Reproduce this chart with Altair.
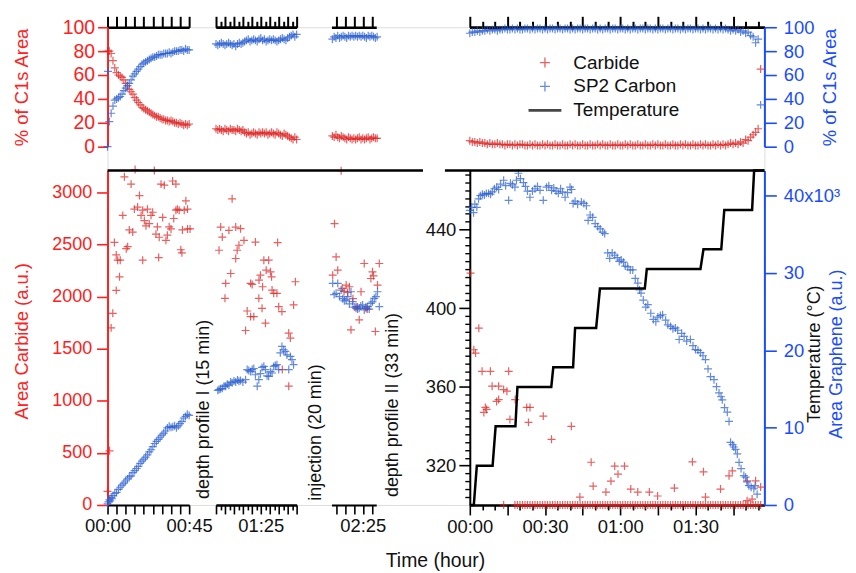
import altair as alt
import pandas as pd

# ---------------- data ----------------
# Top-left panel: % of C1s area, segment 1 (00:00 - 00:45, minutes)
TL1_TIME = [0,1,2,3,4,5,6,7,8,9,10,11,12,13,14,15,16,17,18,19,20,21,22,23,24,25,26,27,28,29,30,31,32,33,34,35,36,37,38,39,40,41,42,43,44,45]
TL1_CARBIDE = [80,80,78,72,66,62,60,59,58,56,53,51,48,46,44,41,39,37,35,33,32,31,30,29,28,27,26,25,25,24,23,23,22,22,21,22,21,20,20,19,20,19,18,19,18,19]
TL1_SP2 = [0,21,28,34,39,40,41,42,44,47,49,51,53,56,59,61,63,65,67,69,70,71,72,73,74,75,75,76,77,77,77,78,78,78,79,78,79,80,80,80,81,81,80,82,81,81]
TL1_SP2_EXTRA_TIME = [0.3]
TL1_SP2_EXTRA = [63]

# segment 2 (01:00 - 01:45)
TL2_TIME = [60,61,62,63,64,65,66,67,68,69,70,71,72,73,74,75,76,77,78,79,80,81,82,83,84,85,86,87,88,89,90,91,92,93,94,95,96,97,98,99,100,101,102,103,104,105]
TL2_CARBIDE = [15,14,15,14,13,15,14,13,15,14,14,13,15,14,13,14,12,11,12,10,11,12,11,10,12,11,12,11,12,10,11,12,11,10,12,11,10,9,11,10,9,8,7,6,8,6]
TL2_SP2 = [86,85,86,87,86,85,86,87,86,85,86,84,86,87,86,87,88,89,90,88,89,90,89,88,90,91,89,90,88,89,90,89,90,89,88,89,90,91,90,89,91,92,93,94,92,94]

# segment 3 (02:08 - 02:33)
TL3_TIME = [128,129,130,131,132,133,134,135,136,137,138,139,140,141,142,143,144,145,146,147,148,149,150,151,152,153]
TL3_CARBIDE = [9,8,10,8,7,9,8,7,6,8,7,6,7,6,7,8,6,7,6,7,8,6,7,8,7,7]
TL3_SP2 = [90,92,91,93,91,92,93,92,91,93,92,93,92,93,92,93,92,93,92,91,93,92,93,92,91,92]

# Top-right panel: % of C1s area during annealing
TR_TIME = [0,1,2,3,4,5,6,7,8,9,10,11,12,13,14,15,16,17,18,19,20,21,22,23,24,25,26,27,28,29,
           30,31,32,33,34,35,36,37,38,39,40,41,42,43,44,45,46,47,48,49,50,51,52,53,54,55,56,57,58,59,
           60,61,62,63,64,65,66,67,68,69,70,71,72,73,74,75,76,77,78,79,80,81,82,83,84,85,86,87,88,89,
           90,91,92,93,94,95,96,97,98,99,100,101,102,103,104,105,106,107,108,109,110,111,112,113,114,115,116]
TR_SP2 = [95,96,96,97,96,97,97,98,97,98,98,97,98,98,99,98,98,99,98,99,98,98,99,99,98,99,98,99,99,98,
          99,98,99,99,98,99,99,98,99,99,98,99,98,99,99,98,99,99,98,99,99,98,99,98,99,99,98,99,99,98,
          99,99,98,99,98,99,99,98,99,99,98,99,99,98,99,98,99,99,98,99,99,98,99,99,98,99,98,99,99,98,
          99,99,98,99,98,99,99,98,99,98,99,98,99,98,97,98,97,98,96,97,95,96,93,92,87,90,35]
TR_CARBIDE = [5,4,4,3,4,3,3,2,3,2,2,3,2,2,1,2,2,1,2,1,2,2,1,1,2,1,2,1,1,2,
              1,2,1,1,2,1,1,2,1,1,2,1,2,1,1,2,1,1,2,1,1,2,1,2,1,1,2,1,1,2,
              1,1,2,1,2,1,1,2,1,1,2,1,1,2,1,2,1,1,2,1,1,2,1,1,2,1,2,1,1,2,
              1,1,2,1,2,1,1,2,1,2,1,2,1,2,3,2,3,2,4,3,6,5,8,10,12,15,65]

# Bottom-left: areas (a.u.), segment 1
BL1_CARB_TIME = [0.0,1.1,2.0,2.9,3.8,4.8,4.8,5.6,6.6,7.0,8.4,9.3,10.3,11.1,12.0,13.0,13.9,14.8,15.2,16.6,17.6,18.5,19.4,19.4,20.3,21.2,22.0,23.0,24.0,24.9,25.8,26.7,27.5,28.2,28.5,29.5,30.4,31.3,32.2,33.0,34.0,35.0,35.9,36.5,37.7,37.7,38.5,39.5,40.4,41.0,41.3,42.3,43.2,44.1,44.1,45.5]
BL1_CARB = [130,520,1700,1840,2520,2060,2400,2350,2190,2350,2780,3150,2460,2480,2640,3080,2620,2840,3220,2860,2970,2780,2350,2830,2730,2680,2840,2700,2780,2810,3210,2600,2670,2375,2570,3080,2760,3070,2540,2590,2670,2650,3110,2750,3080,2830,2840,2830,2450,2420,2640,2830,2920,2840,2650,2650]
BL1_SP2_TIME = [0,0.5,1,1.5,2,2.5,3,4,5,6,7,8,9,10,11,12,13,14,15,16,17,18,19,20,21,22,23,24,25,26,27,28,29,30,31,32,33,34,35,36,37,38,39,40,41,42,43,44,45]
BL1_SP2 = [10,30,50,40,70,60,90,110,120,150,170,190,210,230,250,270,280,310,330,350,370,400,420,440,460,480,510,530,560,590,610,630,650,670,690,710,740,755,745,750,760,740,760,780,800,835,850,870,860]

# segment 2
BL2_CARB_TIME = [61.7,62.6,63.5,65.0,65.4,67.2,68.2,69.0,71.0,71.0,71.8,72.8,73.7,75.6,76.5,77.4,79.3,79.3,80.2,81.1,82.0,83.9,84.0,84.8,85.7,86.0,86.7,87.6,88.0,89.4,90.4,91.0,91.3,92.2,94.0,94.4,95.0,96.8,97.0,100.6,100.6,101.5,103.3,104.3]
BL2_CARB = [2445,2668,2572,1984,2127,2636,2222,2939,2668,2366,2445,2493,2652,2540,1675,1862,2127,1808,2117,1808,2524,1984,2159,2206,1888,2095,2350,1745,2254,2350,2238,2190,2063,2032,2032,2519,1904,1856,1300,1650,1140,1602,1920,2143]
BL2_SP2_TIME = [61.0,61.7,62.5,63.5,64.5,65.4,66.3,67.2,68.2,69.0,70.0,71.0,72.0,72.8,73.7,75.0,76.5,77.4,78.3,79.3,80.2,81.1,82.0,83.0,83.9,84.8,85.7,86.7,87.6,88.5,89.4,90.4,91.3,92.2,93.1,94.0,95.0,95.9,96.8,97.8,98.7,99.6,100.6,101.5,102.4,103.3]
BL2_SP2 = [1100,1108,1115,1120,1140,1140,1160,1150,1180,1172,1190,1180,1200,1188,1195,1180,1203,1300,1290,1280,1300,1310,1250,1140,1203,1260,1320,1331,1300,1240,1235,1280,1267,1330,1340,1347,1300,1460,1522,1490,1474,1440,1300,1426,1395,1347]

# segment 3
BL3_CARB_TIME = [128.2,129.2,130.1,131.0,132.9,133.5,134.5,135.7,136.5,137.5,138.4,139.5,141.2,142.0,143.0,144.0,145.8,146.8,147.5,149.5,150.4,151.0,152.0,153.2,154.2]
BL3_CARB = [2206,2700,2381,2254,3209,2080,2050,2111,2040,2095,1681,1980,1888,1900,1777,2047,2318,1888,1880,2174,2238,2200,1665,2111,2318]
BL3_SP2_TIME = [128.2,129.0,130.1,131.0,132.0,132.9,133.8,134.7,135.7,136.6,137.5,138.4,139.3,140.2,141.2,142.1,143.0,143.9,144.9,145.8,146.7,147.7,148.6,149.5,150.4,151.4,152.3,153.2,154.2]
BL3_SP2 = [2127,2020,2032,2127,2000,2063,1980,1960,1968,2000,1930,2047,1952,1900,1904,1880,1888,1910,1920,1872,1900,1904,1880,1936,1950,1984,2000,2047,1904]

# Bottom-right: annealing, carbide area (a.u.) and graphene area (x10^3)
BR_CARB_TIME = [0.3,1.6,2.3,3.6,4.9,5.6,6.2,6.7,8.2,8.9,10.7,11.5,11.5,13.5,14.8,15.5,16.0,18.1,22.7,23.4,24.0,29.3,32.6,40.5,43.9,48.4,49.2,54.3,56.3,57.8,59.1,61.7,64.2,67.0,71.6,74.9,81.6,88.8,93.2,94.0,100.0,103.4,104.7,110.6,110.6,112.6,114.0,116.0]
BR_CARB = [2225,1490,1458,1697,1283,888,936,917,1283,1140,994,1140,1012,1108,1092,1283,821,1012,936,793,936,853,630,755,76,410,181,124,229,373,296,373,153,124,124,86,162,414,318,76,153,280,328,232,41,57,232,172]
BR_CARB_ZERO_TIME = [13.5,18,19,20,21,22,23,24,25,26,27,28,29,30,31,32,33,34,35,36,37,38,39,40,41,42,43,44,45,46,47,48,49,50,51,52,53,54,55,56,57,58,59,60,61,62,63,64,65,66,67,68,69,70,71,72,73,74,75,76,77,78,79,80,81,82,83,84,85,86,87,88,89,90,91,92,93,94,95,96,97,98,99,100,101,102,103,104,105,106,107,108,109,110,111,112,113,114,115,116]
BR_SP2_TIME = [0,0.8,1.5,2.0,2.8,3.5,4.2,5.0,5.8,6.6,7.5,8.3,9.0,9.8,10.7,11.5,12.3,13.5,14.3,15.5,
               16.2,17.0,18.0,18.6,19.4,20.2,21.4,22.2,23.0,24.0,25.0,26.0,27.0,28.0,29.3,30.6,31.5,32.6,33.5,34.4,
               35.3,36.2,37.0,38.0,39.0,40.0,40.6,41.2,42.0,43.0,44.5,45.5,46.5,47.2,48.0,49.0,50.0,51.0,52.0,53.0,
               53.8,55.0,55.8,56.8,57.8,58.8,59.6,60.4,61.3,62.0,63.0,64.0,65.0,66.0,67.0,67.7,68.3,69.2,70.2,71.0,
               72.2,73.2,74.2,75.0,76.0,76.9,78.1,79.0,80.1,81.0,82.0,82.9,83.5,84.5,85.5,86.5,88.0,89.0,90.0,91.0,
               92.0,93.0,94.0,95.0,96.0,97.4,98.4,99.4,100.2,100.7,101.6,102.7,103.4,104.0,104.8,105.3,106.0,106.7,107.4,108.2,
               109.3,110.0,110.6,111.3,112.2,113.3,113.8,114.6]
BR_SP2_K = [38.1,38.5,37.8,38.9,38.5,39.6,40.0,40.2,40.1,40.3,40.3,40.2,40.5,40.9,41.1,40.8,41.5,42.0,41.3,39.4,
            41.6,41.4,41.1,42.0,42.9,42.2,41.7,41.2,40.6,39.8,40.6,40.9,41.2,40.7,39.4,41.1,41.3,40.7,41.0,40.6,
            40.3,40.9,40.5,39.8,40.4,41.1,40.8,39.0,39.3,38.9,39.2,39.0,38.7,36.8,37.5,37.2,36.4,36.0,35.7,35.3,
            35.1,32.6,31.9,32.6,32.3,32.0,31.5,31.7,31.4,30.9,30.8,30.4,30.4,29.3,28.7,27.8,27.4,26.5,25.6,25.9,
            24.8,24.0,23.7,24.3,24.5,24.6,23.9,23.3,23.1,22.8,22.9,22.6,21.4,22.2,21.8,21.2,21.4,20.6,20.1,20.0,
            19.7,19.3,18.8,17.6,16.6,16.2,15.3,14.5,14.0,13.6,12.6,12.0,10.8,8.1,7.8,7.5,7.2,6.6,5.5,4.7,
            3.8,3.6,3.0,2.5,2.3,2.1,2.5,1.4]

# Temperature steps (°C)
TEMP_TIME = [0,1.6,2.8,9.1,10.3,18.2,19.0,32.5,33.3,41.2,42.0,50.4,51.9,69.8,70.6,92.0,93.2,100.3,101.5,112.6,113.4,117.5]
TEMP_C = [300,300,320,320,340,340,360,360,370,370,390,390,410,410,420,420,430,430,450,450,470,470]

# Annotations
ANNOT_LABELS = ["depth profile I (15 min)", "injection (20 min)", "depth profile II (33 min)"]
ANNOT_TIME = [53.2, 115.6, 161.9]
ANNOT_Y = [57, 41, 76]

SERIES = ["Carbide", "SP2 Carbon", "Temperature"]

# ---------------- styling ----------------
FONT = "Liberation Sans"
RED = "#ff2020"
BLUE = "#1a4cff"
PT_RED = "#e02424"
PT_BLUE = "#2a5fd0"
CROSS = "M-1,0H1M0,-1V1"
LINE_SYM = "M-3.3,0H3.3M-3.3,0.16H3.3M-3.3,-0.16H3.3"

W, H = 660, 480

def sc(dom, rng):
    return alt.Scale(domain=dom, range=rng, nice=False, zero=False)

X1 = sc([0, 45], [0, 82])
X2 = sc([60, 105], [109, 190])
X3 = sc([127.5, 152.5], [225, 270])
XR = sc([0, 117.5], [364, 660])
Y_PCT = sc([0, 100], [120, 0])
Y_CARB = sc([0, 3210], [480, 144])
Y_GR = sc([0, 43250], [480, 144])
Y_T = sc([300, 470], [480, 144])

COLOR_SC = alt.Scale(domain=SERIES, range=[PT_RED, PT_BLUE, "#000000"])
SHAPE_SC = alt.Scale(domain=SERIES, range=[CROSS, CROSS, LINE_SYM])
LEG = alt.Legend(orient="none", legendX=430, legendY=26, title=None, labelFont=FONT,
                 labelFontSize=19, labelColor="#111111", labelOffset=19, symbolSize=100,
                 symbolStrokeWidth=1.3, rowPadding=4)


def ax(orient, **kw):
    base = dict(orient=orient, grid=False, labelFont=FONT, titleFont=FONT, domainWidth=2,
                tickWidth=1.6, labelOverlap=False, labelFlush=False, title=None,
                domainColor="black", tickColor="black", labelColor="#111111",
                titleFontWeight="normal")
    base.update(kw)
    return alt.Axis(**base)


def tlabel(vals):
    arr = ",".join(str(v) for v in vals)
    return ("indexof([" + arr + "], datum.value) >= 0 ? "
            "pad(floor(datum.value/60)+'', 2, '0', 'left') + ':' + "
            "pad((datum.value%60)+'', 2, '0', 'left') : ''")


def frame(tc, vc, ts, vs):
    rows = [{"t": t, "v": v, "series": "Carbide"} for t, v in zip(tc, vc)]
    rows += [{"t": t, "v": v, "series": "SP2 Carbon"} for t, v in zip(ts, vs)]
    return pd.DataFrame(rows)


def pts(df, xsc, ysc, xaxis=None, yaxis=None):
    return alt.Chart(df).mark_point(filled=False, size=64, opacity=0.72, strokeWidth=1.2).encode(
        x=alt.X("t:Q", scale=xsc, axis=xaxis),
        y=alt.Y("v:Q", scale=ysc, axis=yaxis),
        color=alt.Color("series:N", scale=COLOR_SC, legend=LEG),
        shape=alt.Shape("series:N", scale=SHAPE_SC, legend=LEG),
    )


def guide(xsc=None, xaxis=None, ysc=None, yaxis=None, t0=0, v0=0):
    enc = {}
    if xsc is not None:
        enc["x"] = alt.X("t:Q", scale=xsc, axis=xaxis)
    if ysc is not None:
        enc["y"] = alt.Y("v:Q", scale=ysc, axis=yaxis)
    return alt.Chart(pd.DataFrame({"t": [t0], "v": [v0]})).mark_point(opacity=0).encode(**enc)


SEG1_TICKS = [0, 5, 10, 15, 20, 25, 30, 35, 40, 45]
SEG2_MAJOR = [60, 65, 70, 75, 80, 85, 90, 95, 100, 105]
SEG2_MINOR = [62.5, 67.5, 72.5, 77.5, 82.5, 87.5, 92.5, 97.5, 102.5]
SEG3_TICKS = [130, 135, 140, 145, 150]
R_MAJOR = [0, 15, 30, 45, 60, 75, 90, 105]
R_MINOR = [5, 10, 20, 25, 35, 40, 50, 55, 65, 70, 80, 85, 95, 100, 110, 115]
T_MAJOR = [320, 360, 400, 440]
T_MINOR = [v for v in range(304, 470, 4) if v % 40 != 0]
PCT_TICKS = [0, 20, 40, 60, 80, 100]

top_tick = dict(labels=False, tickSize=11, domainWidth=2.5, tickWidth=2)

layers = []

# ---- top-left panel ----
layers.append(pts(frame(TL1_TIME, TL1_CARBIDE, TL1_TIME + TL1_SP2_EXTRA_TIME, TL1_SP2 + TL1_SP2_EXTRA),
                  X1, Y_PCT,
                  xaxis=ax("top", values=SEG1_TICKS, **top_tick),
                  yaxis=ax("left", values=PCT_TICKS, tickSize=10, tickColor=RED, domainColor=RED,
                           labelColor=RED, labelFontSize=19.5, labelPadding=3,
                           title="% of C1s Area", titleColor=RED, titleFontSize=18.5,
                           titleX=-86, titleY=60, titleAngle=270, titleAlign="center",
                           titleBaseline="middle")))
layers.append(pts(frame(TL2_TIME, TL2_CARBIDE, TL2_TIME, TL2_SP2), X2, Y_PCT,
                  xaxis=ax("top", values=SEG2_MAJOR, **top_tick)))
layers.append(guide(X2, ax("top", values=SEG2_MINOR, labels=False, tickSize=6, domainWidth=2.5, tickWidth=2), t0=60))
layers.append(pts(frame(TL3_TIME, TL3_CARBIDE, TL3_TIME, TL3_SP2), X3, Y_PCT,
                  xaxis=ax("top", values=SEG3_TICKS, **top_tick)))

# ---- top-right panel ----
layers.append(pts(frame(TR_TIME, TR_CARBIDE, TR_TIME, TR_SP2), XR, Y_PCT,
                  xaxis=ax("top", values=R_MAJOR, **top_tick),
                  yaxis=ax("right", values=PCT_TICKS, tickSize=12, tickColor=BLUE, domainColor=BLUE,
                           labelColor=BLUE, labelFontSize=18.5, labelPadding=7,
                           title="% of C1s Area", titleColor=BLUE, titleFontSize=18.5,
                           titleX=65, titleY=60, titleAngle=270, titleAlign="center",
                           titleBaseline="middle")))
layers.append(guide(XR, ax("top", values=R_MINOR, labels=False, tickSize=6, domainWidth=2.5, tickWidth=2)))

# ---- bottom-left panel ----
layers.append(pts(frame(BL1_CARB_TIME, BL1_CARB, BL1_SP2_TIME, BL1_SP2), X1, Y_CARB,
                  xaxis=ax("bottom", values=SEG1_TICKS, tickSize=9, labelExpr=tlabel([0, 45]),
                           labelFontSize=18.5, labelPadding=3),
                  yaxis=ax("left", values=[0, 500, 1000, 1500, 2000, 2500, 3000], format="d",
                           tickSize=11, tickColor=RED, domainColor=RED, labelColor=RED,
                           labelFontSize=18, labelPadding=5, title="Area Carbide (a.u.)",
                           titleColor=RED, titleFontSize=18.5, titleX=-86, titleY=315,
                           titleAngle=270, titleAlign="center", titleBaseline="middle")))
layers.append(pts(frame(BL2_CARB_TIME, BL2_CARB, BL2_SP2_TIME, BL2_SP2), X2, Y_CARB,
                  xaxis=ax("bottom", values=SEG2_MAJOR, tickSize=9, labelExpr=tlabel([85]),
                           labelFontSize=18.5, labelPadding=3)))
layers.append(guide(X2, ax("bottom", values=SEG2_MINOR, labels=False, tickSize=5), t0=60))
layers.append(pts(frame(BL3_CARB_TIME, BL3_CARB, BL3_SP2_TIME, BL3_SP2), X3, Y_CARB,
                  xaxis=ax("bottom", values=SEG3_TICKS, tickSize=9, labelExpr=tlabel([145]),
                           labelFontSize=18.5, labelPadding=3)))

# ---- bottom-right panel ----
br_carb = frame(BR_CARB_TIME + BR_CARB_ZERO_TIME, BR_CARB + [0] * len(BR_CARB_ZERO_TIME), [], [])
layers.append(pts(br_carb, XR, Y_CARB))
br_gr = frame([], [], BR_SP2_TIME, [k * 1000 for k in BR_SP2_K])
layers.append(pts(br_gr, XR, Y_GR,
                  yaxis=ax("right", values=[0, 10000, 20000, 30000, 40000], tickSize=12,
                           tickColor=BLUE, domainColor=BLUE, labelColor=BLUE, labelFontSize=18.5,
                           labelPadding=7,
                           labelExpr="datum.value == 40000 ? '40x10\u00b3' : format(datum.value/1000, 'd')",
                           title="Area Graphene (a.u.)", titleColor=BLUE, titleFontSize=18,
                           titleX=72, titleY=328, titleAngle=270, titleAlign="center",
                           titleBaseline="middle")))

temp_df = pd.DataFrame({"t": TEMP_TIME, "T": TEMP_C})
layers.append(alt.Chart(temp_df).mark_line(color="black", strokeWidth=2.5).encode(
    x=alt.X("t:Q", scale=XR, axis=ax("bottom", values=R_MAJOR, tickSize=10,
                                      labelExpr=tlabel([0, 30, 60, 90]), labelFontSize=18.5,
                                      labelPadding=3, title="Time (hour)", titleFontSize=19.5,
                                      titleColor="#111111", titleX=329, titleY=56,
                                      titleAlign="center", titleBaseline="middle")),
    y=alt.Y("T:Q", scale=Y_T, axis=ax("left", offset=-364, values=T_MAJOR, tickSize=11,
                                       labelFontSize=18.5, labelPadding=3)),
))
layers.append(guide(XR, ax("bottom", values=R_MINOR, labels=False, tickSize=5)))
layers.append(guide(ysc=Y_T, yaxis=ax("left", offset=-364, values=T_MINOR, labels=False,
                                      tickSize=5, domain=False, tickWidth=1.4), v0=300))
layers.append(guide(ysc=Y_T, yaxis=ax("right", values=[], labels=False, ticks=False, domain=False,
                                      title="Temperature (\u00b0C)", titleColor="#111111",
                                      titleFontSize=18, titleX=50, titleY=328, titleAngle=270,
                                      titleAlign="center", titleBaseline="middle"), v0=300))

# ---- top border lines of the lower panels ----
one = pd.DataFrame({"a": [0]})
layers.append(alt.Chart(one).mark_rule(color="black", strokeWidth=2.5).encode(
    x=alt.value(0), x2=alt.value(317), y=alt.value(144)))
layers.append(alt.Chart(one).mark_rule(color="black", strokeWidth=2.5).encode(
    x=alt.value(339), x2=alt.value(660), y=alt.value(144)))

# ---- annotations ----
for i, xsc in enumerate([X1, X2, X3]):
    adf = pd.DataFrame({"t": [ANNOT_TIME[i]], "v": [ANNOT_Y[i]], "label": [ANNOT_LABELS[i]]})
    layers.append(alt.Chart(adf).mark_text(angle=270, align="left", baseline="middle",
                                           fontSize=18, font=FONT, color="#111111").encode(
        x=alt.X("t:Q", scale=xsc, axis=None),
        y=alt.Y("v:Q", scale=Y_CARB, axis=None),
        text="label:N"))

chart = alt.layer(*layers).resolve_scale(
    x="independent", y="independent", color="shared", shape="shared"
).properties(
    width=W, height=H,
    padding={"left": 100, "top": 18, "right": 84, "bottom": 66},
    autosize=alt.AutoSizeParams(type="none"),
).configure_view(stroke=None).configure(font=FONT)

chart.save("out.html", embed_options={"renderer": "svg", "actions": False})
